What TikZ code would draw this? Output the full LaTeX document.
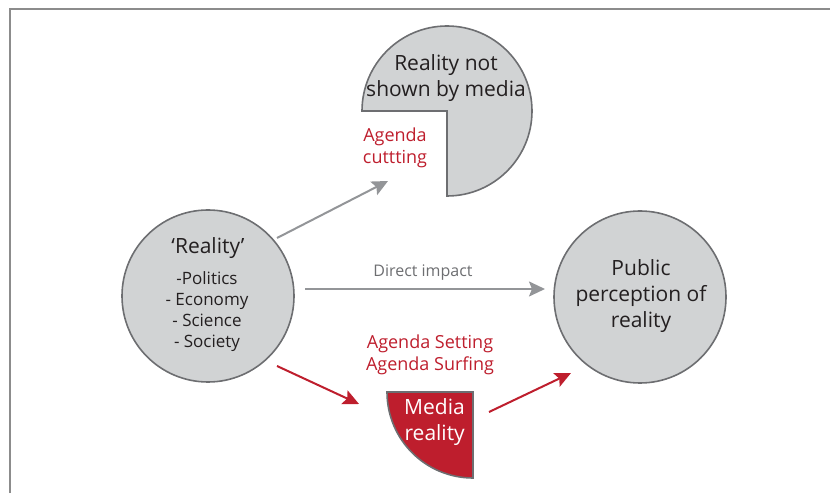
\documentclass[tikz,border=0pt]{standalone}
\usepackage{fontspec}
\setmainfont{Open Sans}
\usetikzlibrary{arrows.meta}
\definecolor{cfill}{HTML}{D1D3D4}
\definecolor{cstroke}{HTML}{6D6E71}
\definecolor{carrow}{HTML}{939598}
\definecolor{cred}{HTML}{BE1E2D}
\definecolor{ctext}{HTML}{231F20}
\definecolor{cframe}{HTML}{8C8C8C}
\tikzset{
  blob/.style={fill=cfill, draw=cstroke, line width=1.6pt},
  redblob/.style={fill=cred, draw=cstroke, line width=1.6pt},
  circ/.style={blob, circle, minimum size=172pt, inner sep=0pt},
  bigtxt/.style={font=\fontsize{21}{26}\selectfont, text=ctext, align=center, inner sep=0pt},
  smalltxt/.style={font=\fontsize{17}{21}\selectfont, text=ctext, align=center, inner sep=0pt},
  redtxt/.style={font=\fontsize{18}{22.5}\selectfont, text=cred, align=center, inner sep=0pt},
  graytxt/.style={font=\fontsize{16}{18}\selectfont, text=cstroke, inner sep=0pt},
  grayarrow/.style={draw=carrow, line width=2pt, -{Stealth[length=16pt,width=15pt,inset=3pt]}},
  redarrow/.style={draw=cred, line width=2pt, -{Stealth[length=16pt,width=15pt,inset=3pt]}},
}
\begin{document}
\begin{tikzpicture}[x=1pt,y=1pt]
\useasboundingbox (0,0) rectangle (830,493);
% frame
\draw[cframe, line width=2pt] (9.5,0) -- (9.5,483.5) -- (831,483.5);
% top pie
\draw[blob] (447,382) -- (447,297) arc[start angle=-90, end angle=180, radius=85] -- cycle;
\node[bigtxt] (notshown) at (446,415) {Reality not\\shown by media};
\node[redtxt] (cut) at (395,345) {Agenda\\cuttting};
% media reality pie
\draw[redblob] (473,101) -- (387,101) arc[start angle=180, end angle=270, radius=86] -- cycle;
\node[bigtxt, text=white, align=right, anchor=east] (media) at (465,71) {Media\\reality};
% circles
\node[circ] (real) at (208,197) {};
\node[bigtxt] (realtitle) at (208,245) {‘Reality’};
\node[smalltxt] (reallist) at (207,181) {-Politics\\- Economy\\- Science\\- Society};
\node[circ] (pub) at (640,196) {};
\node[bigtxt] (pubtxt) at (641,197) {Public\\perception of\\reality};
% labels
\node[graytxt] (direct) at (423,220) {Direct impact};
\node[redtxt] (setting) at (430,138) {Agenda Setting\\Agenda Surfing};
% arrow endpoints
\coordinate (a1s) at (277,255);
\coordinate (a1e) at (388,312);
\coordinate (a2s) at (305,204);
\coordinate (a2e) at (545,204);
\coordinate (a3s) at (277,127);
\coordinate (a3e) at (359,89);
\coordinate (a4s) at (489,81);
\coordinate (a4e) at (571,120);
\draw[grayarrow] (a1s) -- (a1e);
\draw[grayarrow] (a2s) -- (a2e);
\draw[redarrow] (a3s) -- (a3e);
\draw[redarrow] (a4s) -- (a4e);
\end{tikzpicture}
\end{document}
